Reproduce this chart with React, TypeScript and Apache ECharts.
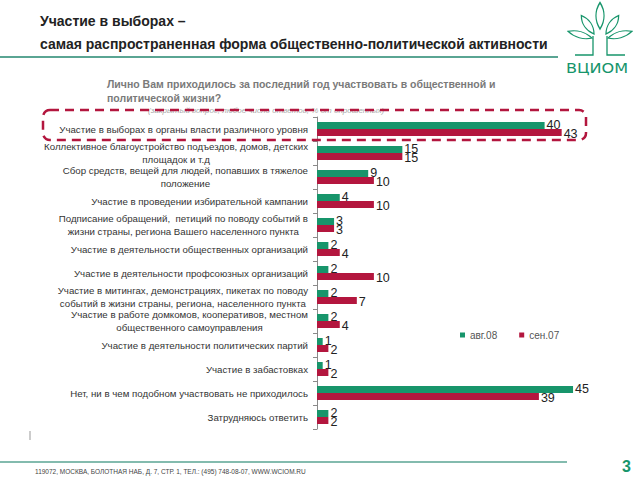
import React, { useEffect, useRef } from "react";
import * as echarts from "echarts";

const categories: string[] = [
  "Участие в выборах в органы власти различного уровня",
  "Коллективное благоустройство подъездов, домов, детских\nплощадок и т.д",
  "Сбор средств, вещей для людей, попавших в тяжелое\nположение",
  "Участие в проведении избирательной кампании",
  "Подписание обращений,  петиций по поводу событий в\nжизни страны, региона Вашего населенного пункта",
  "Участие в деятельности общественных организаций",
  "Участие в деятельности профсоюзных организаций",
  "Участие в митингах, демонстрациях, пикетах по поводу\nсобытий в жизни страны, региона, населенного пункта",
  "Участие в работе домкомов, кооперативов, местном\nобщественного самоуправления",
  "Участие в деятельности политических партий",
  "Участие в забастовках",
  "Нет, ни в чем подобном участвовать не приходилось",
  "Затрудняюсь ответить",
];
const aug08: number[] = [40, 15, 9, 4, 3, 2, 2, 2, 2, 1, 1, 45, 2];
const sep07: number[] = [43, 15, 10, 10, 3, 4, 10, 7, 4, 2, 2, 39, 2];
const seriesNames: string[] = ["авг.08", "сен.07"];

const GREEN = "#17956b";
const RED = "#b3163e";
const TEAL = "#5aa593";
const FONT = "'Liberation Sans', Arial, sans-serif";

const leafPath = "M0 0 C 6 -5 6 -11 0 -16 C -6 -11 -6 -5 0 0 Z";
echarts.graphic.registerShape("leaf", echarts.graphic.extendPath(leafPath, {}) as any);

export default function App() {
  const ref = useRef<HTMLDivElement>(null);
  useEffect(() => {
    document.body.style.margin = "0";
    const chart = echarts.init(ref.current!, null, { renderer: "svg" });
    const leafStyle = { fill: "none", stroke: GREEN, lineWidth: 1.3 };
    chart.setOption({
      animation: false,
      textStyle: { fontFamily: FONT },
      grid: { left: 317, top: 117, width: 284.5, height: 312, containLabel: false },
      xAxis: { type: "value", min: 0, max: 50, show: false },
      yAxis: {
        type: "category",
        inverse: true,
        data: categories,
        axisLine: { lineStyle: { color: "#8a8a8a" } },
        axisTick: { show: true, length: 4, lineStyle: { color: "#8a8a8a" } },
        axisLabel: {
          margin: 9,
          formatter: (v: string) => v.split("\n").map((l) => `{c|${l}}`).join("\n"),
          rich: { c: { align: "center", fontSize: 9.7, lineHeight: 12.5, color: "#333", fontFamily: FONT } },
        },
      },
      legend: {
        left: 455,
        top: 325,
        itemWidth: 5,
        itemHeight: 5,
        itemGap: 22,
        icon: "rect",
        textStyle: { fontSize: 10, color: "#555", fontFamily: FONT },
        data: seriesNames,
      },
      series: [
        {
          name: seriesNames[0],
          type: "bar",
          data: aug08,
          barWidth: 7,
          barGap: "0%",
          itemStyle: { color: GREEN },
          label: { show: true, position: "right", distance: 2, color: "#222", fontSize: 12.5, fontFamily: FONT, offset: [0, -1] },
        },
        {
          name: seriesNames[1],
          type: "bar",
          data: sep07,
          barWidth: 7,
          barGap: "0%",
          itemStyle: { color: RED },
          label: { show: true, position: "right", distance: 2, color: "#222", fontSize: 12.5, fontFamily: FONT, offset: [0, 1] },
        },
      ],
      graphic: [
        { type: "text", left: 40, top: 14, style: { text: "Участие в выборах –", fontSize: 14, fontWeight: "bold", fill: "#222", fontFamily: FONT } },
        { type: "text", left: 40, top: 37, style: { text: "самая распространенная форма общественно-политической активности", fontSize: 14, fontWeight: "bold", fill: "#222", fontFamily: FONT } },
        { type: "line", shape: { x1: 0, y1: 57, x2: 558, y2: 57 }, style: { stroke: TEAL, lineWidth: 2 } },
        { type: "text", left: 107, top: 78, style: { text: "Лично Вам приходилось за последний год участвовать в общественной и", fontSize: 10.5, fontWeight: "bold", fill: "#7a7a7a", fontFamily: FONT } },
        { type: "text", left: 107, top: 92, style: { text: "политической жизни?", fontSize: 10.5, fontWeight: "bold", fill: "#7a7a7a", fontFamily: FONT } },
        { type: "text", left: 148, top: 106, style: { text: "(закрытый вопрос, любое число ответов, % от опрошенных)", fontSize: 8, fontStyle: "italic", fill: "#aaa", fontFamily: FONT } },
        {
          type: "rect",
          shape: { x: 43, y: 110, width: 543, height: 30, r: 7 },
          style: { fill: "none", stroke: RED, lineWidth: 2.5, lineDash: [9, 6] },
          z: 10,
        },
        // logo
        { type: "leaf", x: 600, y: 29, scaleX: 0.9, scaleY: 1.65, style: leafStyle },
        { type: "leaf", x: 594, y: 34, rotation: 0.6, scaleX: 0.8, scaleY: 1.4, style: leafStyle },
        { type: "leaf", x: 606, y: 34, rotation: -0.6, scaleX: 0.8, scaleY: 1.4, style: leafStyle },
        { type: "leaf", x: 592, y: 38, rotation: 1.3, scaleX: 0.7, scaleY: 1.55, style: leafStyle },
        { type: "leaf", x: 608, y: 38, rotation: -1.3, scaleX: 0.7, scaleY: 1.55, style: leafStyle },
        { type: "polyline", shape: { points: [[593, 36], [593, 55], [575, 55]] }, style: { stroke: GREEN, lineWidth: 1.3, fill: "none" } },
        { type: "polyline", shape: { points: [[607, 36], [607, 55], [625, 55]] }, style: { stroke: GREEN, lineWidth: 1.3, fill: "none" } },
        { type: "text", x: 566, y: 61, scaleX: 1.15, style: { text: "ВЦИОМ", fontSize: 14, fill: GREEN, fontFamily: "'DejaVu Sans', sans-serif" } },
        // footer
        { type: "line", shape: { x1: 30, y1: 431, x2: 30, y2: 440 }, style: { stroke: "#999", lineWidth: 1 } },
        { type: "line", shape: { x1: 0, y1: 462, x2: 567, y2: 462 }, style: { stroke: TEAL, lineWidth: 1.5 } },
        { type: "text", left: 35, top: 468, style: { text: "119072, МОСКВА, БОЛОТНАЯ НАБ, Д. 7, СТР. 1, ТЕЛ.: (495) 748-08-07, WWW.WCIOM.RU", fontSize: 6.5, fill: "#444", fontFamily: FONT } },
        { type: "text", left: 622, top: 458, style: { text: "3", fontSize: 16, fontWeight: "bold", fill: GREEN, fontFamily: FONT } },
      ],
    });
    return () => chart.dispose();
  }, []);
  return <div ref={ref} style={{ position: "absolute", left: 0, top: 0, width: 640, height: 480 }} />;
}
